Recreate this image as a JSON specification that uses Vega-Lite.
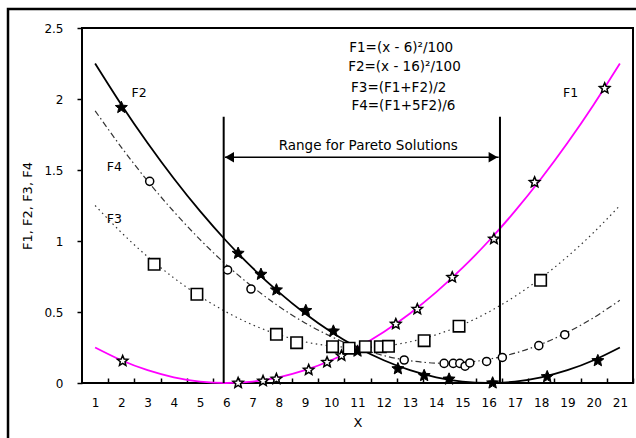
{
  "$schema": "https://vega.github.io/schema/vega-lite/v6.json",
  "width": 551,
  "height": 355,
  "autosize": {"type": "none"},
  "padding": {"left": 82, "top": 28, "right": 3, "bottom": 55},
  "background": "white",
  "config": {
    "view": {"stroke": "black", "strokeWidth": 2},
    "font": "DejaVu Sans",
    "text": {"font": "DejaVu Sans", "color": "black"},
    "axis": {"labelOverlap": false, "labelSeparation": 0},
    "axisX": {"labelOverlap": false},
    "axisQuantitative": {"labelOverlap": false}
  },
  "datasets": {
    "curves": [
      {"x": 1, "y": 0.25, "f": "F1"}, {"x": 2, "y": 0.16, "f": "F1"}, {"x": 3, "y": 0.09, "f": "F1"}, {"x": 4, "y": 0.04, "f": "F1"}, {"x": 5, "y": 0.01, "f": "F1"}, {"x": 6, "y": 0, "f": "F1"}, {"x": 7, "y": 0.01, "f": "F1"}, {"x": 8, "y": 0.04, "f": "F1"}, {"x": 9, "y": 0.09, "f": "F1"}, {"x": 10, "y": 0.16, "f": "F1"}, {"x": 11, "y": 0.25, "f": "F1"}, {"x": 12, "y": 0.36, "f": "F1"}, {"x": 13, "y": 0.49, "f": "F1"}, {"x": 14, "y": 0.64, "f": "F1"}, {"x": 15, "y": 0.81, "f": "F1"}, {"x": 16, "y": 1.0, "f": "F1"}, {"x": 17, "y": 1.21, "f": "F1"}, {"x": 18, "y": 1.44, "f": "F1"}, {"x": 19, "y": 1.69, "f": "F1"}, {"x": 20, "y": 1.96, "f": "F1"}, {"x": 21, "y": 2.25, "f": "F1"},
      {"x": 1, "y": 2.25, "f": "F2"}, {"x": 2, "y": 1.96, "f": "F2"}, {"x": 3, "y": 1.69, "f": "F2"}, {"x": 4, "y": 1.44, "f": "F2"}, {"x": 5, "y": 1.21, "f": "F2"}, {"x": 6, "y": 1.0, "f": "F2"}, {"x": 7, "y": 0.81, "f": "F2"}, {"x": 8, "y": 0.64, "f": "F2"}, {"x": 9, "y": 0.49, "f": "F2"}, {"x": 10, "y": 0.36, "f": "F2"}, {"x": 11, "y": 0.25, "f": "F2"}, {"x": 12, "y": 0.16, "f": "F2"}, {"x": 13, "y": 0.09, "f": "F2"}, {"x": 14, "y": 0.04, "f": "F2"}, {"x": 15, "y": 0.01, "f": "F2"}, {"x": 16, "y": 0, "f": "F2"}, {"x": 17, "y": 0.01, "f": "F2"}, {"x": 18, "y": 0.04, "f": "F2"}, {"x": 19, "y": 0.09, "f": "F2"}, {"x": 20, "y": 0.16, "f": "F2"}, {"x": 21, "y": 0.25, "f": "F2"},
      {"x": 1, "y": 1.25, "f": "F3"}, {"x": 2, "y": 1.06, "f": "F3"}, {"x": 3, "y": 0.89, "f": "F3"}, {"x": 4, "y": 0.74, "f": "F3"}, {"x": 5, "y": 0.61, "f": "F3"}, {"x": 6, "y": 0.5, "f": "F3"}, {"x": 7, "y": 0.41, "f": "F3"}, {"x": 8, "y": 0.34, "f": "F3"}, {"x": 9, "y": 0.29, "f": "F3"}, {"x": 10, "y": 0.26, "f": "F3"}, {"x": 11, "y": 0.25, "f": "F3"}, {"x": 12, "y": 0.26, "f": "F3"}, {"x": 13, "y": 0.29, "f": "F3"}, {"x": 14, "y": 0.34, "f": "F3"}, {"x": 15, "y": 0.41, "f": "F3"}, {"x": 16, "y": 0.5, "f": "F3"}, {"x": 17, "y": 0.61, "f": "F3"}, {"x": 18, "y": 0.74, "f": "F3"}, {"x": 19, "y": 0.89, "f": "F3"}, {"x": 20, "y": 1.06, "f": "F3"}, {"x": 21, "y": 1.25, "f": "F3"},
      {"x": 1, "y": 1.917, "f": "F4"}, {"x": 2, "y": 1.66, "f": "F4"}, {"x": 3, "y": 1.423, "f": "F4"}, {"x": 4, "y": 1.207, "f": "F4"}, {"x": 5, "y": 1.01, "f": "F4"}, {"x": 6, "y": 0.833, "f": "F4"}, {"x": 7, "y": 0.677, "f": "F4"}, {"x": 8, "y": 0.54, "f": "F4"}, {"x": 9, "y": 0.423, "f": "F4"}, {"x": 10, "y": 0.327, "f": "F4"}, {"x": 11, "y": 0.25, "f": "F4"}, {"x": 12, "y": 0.193, "f": "F4"}, {"x": 13, "y": 0.157, "f": "F4"}, {"x": 14, "y": 0.14, "f": "F4"}, {"x": 15, "y": 0.143, "f": "F4"}, {"x": 16, "y": 0.167, "f": "F4"}, {"x": 17, "y": 0.21, "f": "F4"}, {"x": 18, "y": 0.273, "f": "F4"}, {"x": 19, "y": 0.357, "f": "F4"}, {"x": 20, "y": 0.46, "f": "F4"}, {"x": 21, "y": 0.583, "f": "F4"}
    ],
    "points": [
      {"x": 2.05, "y": 0.155, "s": "F1"}, {"x": 6.45, "y": 0.0, "s": "F1"}, {"x": 7.4, "y": 0.014, "s": "F1"}, {"x": 7.91, "y": 0.028, "s": "F1"}, {"x": 9.14, "y": 0.092, "s": "F1"}, {"x": 9.84, "y": 0.146, "s": "F1"}, {"x": 10.39, "y": 0.192, "s": "F1"}, {"x": 12.46, "y": 0.415, "s": "F1"}, {"x": 13.28, "y": 0.52, "s": "F1"}, {"x": 14.61, "y": 0.744, "s": "F1"}, {"x": 16.2, "y": 1.014, "s": "F1"}, {"x": 17.75, "y": 1.413, "s": "F1"}, {"x": 20.42, "y": 2.075, "s": "F1"},
      {"x": 2.0, "y": 1.94, "s": "F2"}, {"x": 6.45, "y": 0.913, "s": "F2"}, {"x": 7.32, "y": 0.765, "s": "F2"}, {"x": 7.91, "y": 0.655, "s": "F2"}, {"x": 9.03, "y": 0.51, "s": "F2"}, {"x": 10.08, "y": 0.365, "s": "F2"}, {"x": 11.0, "y": 0.224, "s": "F2"}, {"x": 12.54, "y": 0.1, "s": "F2"}, {"x": 13.54, "y": 0.052, "s": "F2"}, {"x": 14.49, "y": 0.027, "s": "F2"}, {"x": 16.15, "y": 0.0, "s": "F2"}, {"x": 18.23, "y": 0.044, "s": "F2"}, {"x": 20.16, "y": 0.157, "s": "F2"},
      {"x": 3.25, "y": 0.836, "s": "F3"}, {"x": 4.88, "y": 0.625, "s": "F3"}, {"x": 7.91, "y": 0.343, "s": "F3"}, {"x": 8.68, "y": 0.284, "s": "F3"}, {"x": 10.05, "y": 0.256, "s": "F3"}, {"x": 10.68, "y": 0.245, "s": "F3"}, {"x": 11.3, "y": 0.256, "s": "F3"}, {"x": 11.87, "y": 0.256, "s": "F3"}, {"x": 12.18, "y": 0.258, "s": "F3"}, {"x": 13.54, "y": 0.298, "s": "F3"}, {"x": 14.87, "y": 0.4, "s": "F3"}, {"x": 17.98, "y": 0.723, "s": "F3"},
      {"x": 3.08, "y": 1.42, "s": "F4"}, {"x": 6.05, "y": 0.796, "s": "F4"}, {"x": 6.94, "y": 0.662, "s": "F4"}, {"x": 12.78, "y": 0.162, "s": "F4"}, {"x": 14.3, "y": 0.138, "s": "F4"}, {"x": 14.65, "y": 0.138, "s": "F4"}, {"x": 14.9, "y": 0.138, "s": "F4"}, {"x": 15.1, "y": 0.118, "s": "F4"}, {"x": 15.28, "y": 0.141, "s": "F4"}, {"x": 15.92, "y": 0.152, "s": "F4"}, {"x": 16.52, "y": 0.18, "s": "F4"}, {"x": 17.91, "y": 0.263, "s": "F4"}, {"x": 18.9, "y": 0.34, "s": "F4"}
    ]
  },
  "encoding": {
    "x": {
      "field": "x", "type": "quantitative",
      "scale": {"domain": [0.5, 21.5], "nice": false, "zero": false},
      "axis": {
        "title": "X",
        "values": [1, 2, 3, 4, 5, 6, 7, 8, 9, 10, 11, 12, 13, 14, 15, 16, 17, 18, 19, 20, 21],
        "format": "d",
        "tickOffset": 13.13,
        "labelOffset": -13.13,
        "labelFlush": false,
        "labelOverlap": false,
        "labelBound": false,
        "labelSeparation": 0,
        "tickSize": -5,
        "tickWidth": 1.5,
        "tickColor": "black",
        "labelPadding": 19,
        "labelFontSize": 12,
        "labelColor": "black",
        "domain": false,
        "grid": false,
        "titleFontSize": 13,
        "titleFontWeight": "normal",
        "titleColor": "black",
        "titlePadding": 8
      }
    },
    "y": {
      "field": "y", "type": "quantitative",
      "scale": {"domain": [0, 2.5], "nice": false, "zero": false},
      "axis": {
        "title": "F1, F2, F3, F4",
        "values": [0, 0.5, 1, 1.5, 2, 2.5],
        "format": ".1~f",
        "labelOverlap": false,
        "tickSize": 5,
        "tickWidth": 1.5,
        "tickColor": "black",
        "labelPadding": 14,
        "labelFontSize": 12,
        "labelColor": "black",
        "domain": false,
        "grid": false,
        "titleFontSize": 13,
        "titleFontWeight": "normal",
        "titleColor": "black",
        "titlePadding": 9
      }
    }
  },
  "layer": [
    {
      "data": {"name": "curves"},
      "transform": [{"filter": "datum.f === 'F1' || datum.f === 'F2'"}],
      "mark": {"type": "line", "interpolate": "natural", "strokeWidth": 1.8},
      "encoding": {
        "color": {"field": "f", "type": "nominal", "scale": {"domain": ["F1", "F2"], "range": ["#ff00ff", "#000000"]}, "legend": null}
      }
    },
    {
      "data": {"name": "curves"},
      "transform": [{"filter": "datum.f === 'F3' || datum.f === 'F4'"}],
      "mark": {"type": "line", "interpolate": "natural", "strokeWidth": 1.2, "color": "#333333"},
      "encoding": {
        "detail": {"field": "f", "type": "nominal"},
        "strokeDash": {"field": "f", "type": "nominal", "scale": {"domain": ["F3", "F4"], "range": [[1.5, 3.5], [6, 3, 1.5, 3]]}, "legend": null}
      }
    },
    {
      "data": {"values": [{"x": 5.9, "y": 0, "y2": 1.875}, {"x": 16.43, "y": 0, "y2": 1.875}]},
      "mark": {"type": "rule", "strokeWidth": 2, "color": "black"},
      "encoding": {
        "y2": {"field": "y2"}
      }
    },
    {
      "data": {"values": [{"x": 5.95, "x2": 16.38, "y": 1.589}]},
      "mark": {"type": "rule", "strokeWidth": 1.5, "color": "black"},
      "encoding": {
        "x2": {"field": "x2"}
      }
    },
    {
      "data": {"values": [{"x": 6.12, "y": 1.589}]},
      "mark": {"type": "point", "shape": "triangle-left", "filled": true, "opacity": 1, "color": "black", "size": 110},
      "encoding": {}
    },
    {
      "data": {"values": [{"x": 16.17, "y": 1.589}]},
      "mark": {"type": "point", "shape": "triangle-right", "filled": true, "opacity": 1, "color": "black", "size": 110},
      "encoding": {}
    },
    {
      "data": {"name": "points"},
      "transform": [{"filter": "datum.s === 'F1'"}],
      "mark": {"type": "point", "shape": "M0,-1L0.265,-0.364L0.951,-0.309L0.428,0.139L0.588,0.809L0,0.45L-0.588,0.809L-0.428,0.139L-0.951,-0.309L-0.265,-0.364Z", "opacity": 1, "stroke": "black", "strokeWidth": 1.5, "fill": "white", "filled": true, "size": 120},
      "encoding": {}
    },
    {
      "data": {"name": "points"},
      "transform": [{"filter": "datum.s === 'F2'"}],
      "mark": {"type": "point", "shape": "M0,-1L0.265,-0.364L0.951,-0.309L0.428,0.139L0.588,0.809L0,0.45L-0.588,0.809L-0.428,0.139L-0.951,-0.309L-0.265,-0.364Z", "opacity": 1, "stroke": "black", "strokeWidth": 1, "fill": "black", "filled": true, "size": 160},
      "encoding": {}
    },
    {
      "data": {"name": "points"},
      "transform": [{"filter": "datum.s === 'F3'"}],
      "mark": {"type": "point", "shape": "square", "opacity": 1, "stroke": "black", "strokeWidth": 1.6, "fill": "white", "filled": true, "size": 130},
      "encoding": {}
    },
    {
      "data": {"name": "points"},
      "transform": [{"filter": "datum.s === 'F4'"}],
      "mark": {"type": "point", "shape": "circle", "opacity": 1, "stroke": "black", "strokeWidth": 1.5, "fill": "white", "filled": true, "size": 65},
      "encoding": {}
    },
    {
      "data": {"values": [
        {"x": 12.667, "y": 2.361, "t": "F1=(x - 6)²/100"},
        {"x": 12.79, "y": 2.225, "t": "F2=(x - 16)²/100"},
        {"x": 12.57, "y": 2.08, "t": "F3=(F1+F2)/2"},
        {"x": 12.75, "y": 1.951, "t": "F4=(F1+5F2)/6"},
        {"x": 11.41, "y": 1.671, "t": "Range for Pareto Solutions"}
      ]},
      "mark": {"type": "text", "fontSize": 13.5, "align": "center", "baseline": "middle"},
      "encoding": {
        "text": {"field": "t"}
      }
    },
    {
      "data": {"values": [
        {"x": 2.68, "y": 2.044, "t": "F2"},
        {"x": 1.73, "y": 1.519, "t": "F4"},
        {"x": 1.73, "y": 1.153, "t": "F3"},
        {"x": 19.12, "y": 2.04, "t": "F1"}
      ]},
      "mark": {"type": "text", "fontSize": 12.5, "align": "center", "baseline": "middle"},
      "encoding": {
        "text": {"field": "t"}
      }
    },
    {
      "data": {"values": [{"x": -2.32, "x2": 23, "y": 2.634, "y2": -1}]},
      "mark": {"type": "rect", "filled": false, "stroke": "black", "strokeWidth": 2.5, "fill": "transparent"},
      "encoding": {
        "x2": {"field": "x2"},
        "y2": {"field": "y2"}
      }
    }
  ]
}
